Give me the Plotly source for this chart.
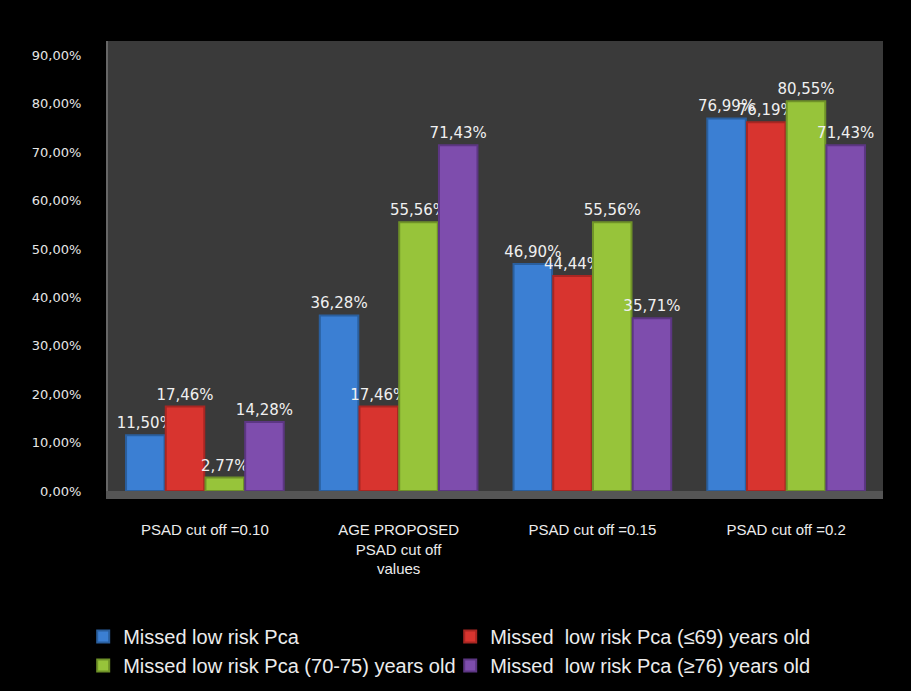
import plotly.graph_objects as go

categories = ["PSAD cut off =0.10", "AGE PROPOSED<br>PSAD cut off<br>values", "PSAD cut off =0.15", "PSAD cut off =0.2"]
series_names = ["Missed low risk Pca", "Missed  low risk Pca (≤69) years old",
                "Missed low risk Pca (70-75) years old", "Missed  low risk Pca (≥76) years old"]
blue_vals = [0.1150, 0.3628, 0.4690, 0.7699]
red_vals = [0.1746, 0.1746, 0.4444, 0.7619]
green_vals = [0.0277, 0.5556, 0.5556, 0.8055]
purple_vals = [0.1428, 0.7143, 0.3571, 0.7143]
colors = ["#3b7fd3", "#d8342f", "#97c43a", "#7e4dad"]
side_colors = ["#2a5f9e", "#a82622", "#6f9228", "#5c3683"]

fig = go.Figure()
for name, vals, c, sc in zip(series_names, [blue_vals, red_vals, green_vals, purple_vals], colors, side_colors):
    fig.add_trace(go.Bar(
        x=categories, y=vals, name=name,
        marker=dict(color=c, line=dict(color=sc, width=2)),
        texttemplate="%{y:.2%}", textposition="outside", constraintext="none",
        textfont=dict(color="#f0f0f0", size=15, family="DejaVu Sans"),
        cliponaxis=False,
    ))

fig.update_layout(
    width=911, height=691,
    paper_bgcolor="#000000", plot_bgcolor="#3a3a3a",
    separators=", ",
    barmode="group", bargap=0.18, bargroupgap=0.03,
    margin=dict(l=108, r=28, t=41, b=200, autoexpand=False),
    font=dict(family="Liberation Sans, Arial, sans-serif", color="#ececec"),
    yaxis=dict(range=[0, 0.93], tickvals=[i / 10 for i in range(10)], tickformat=".2%",
               showgrid=False, zeroline=False, ticks="outside", ticklen=22, tickcolor="#000000",
               tickfont=dict(size=13, color="#e6e6e6", family="DejaVu Sans"),
               showline=True, linecolor="#666666", linewidth=2, automargin=False),
    xaxis=dict(showgrid=False, ticks="outside", ticklen=18, tickcolor="#000000",
               tickfont=dict(size=15, color="#ececec"),
               showline=True, linecolor="#555555", linewidth=8, automargin=False),
    legend=dict(orientation="h", x=-0.032, xanchor="left", y=-0.28, yanchor="top",
                entrywidth=322, entrywidthmode="pixels",
                font=dict(size=20, color="#ececec"), itemwidth=30, tracegroupgap=0),
    showlegend=True,
)

fig.write_html("out.html")
